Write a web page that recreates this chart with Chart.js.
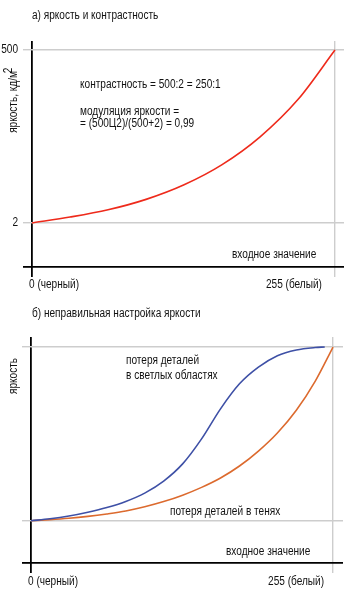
<!DOCTYPE html>
<html>
<head>
<meta charset="utf-8">
<script src="https://cdn.jsdelivr.net/npm/chart.js@4.4.1/dist/chart.umd.min.js"></script>
<style>
  html, body { margin: 0; padding: 0; background: #fff; }
  canvas { display: block; }
</style>
</head>
<body>
<canvas id="chartA" width="349" height="300"></canvas>
<canvas id="chartB" width="349" height="309"></canvas>
<script>
// а) яркость и контрастность
const inputA = [0, 32, 64, 96, 128, 160, 192, 224, 255];
const lumA = [2, 19, 40, 70, 112, 170, 250, 358, 500];
const yTicksA = [2, 500];
const yTickLabelsA = ["2", "500"];

// б) неправильная настройка яркости
const inputHigh = [0, 16, 32, 48, 64, 80, 96, 112, 128, 144, 160, 176, 192, 208, 224, 240, 248];
const lumHigh = [0, 1.1, 2.7, 4.9, 7.6, 11.1, 15.9, 22.8, 32.7, 47.1, 64.4, 78.8, 88.4, 95, 98.3, 99.7, 100];
const inputShadow = [0, 16, 32, 48, 64, 80, 96, 112, 128, 144, 160, 176, 192, 208, 224, 240, 255];
const lumShadow = [0, 0.6, 1.4, 2.5, 3.9, 5.6, 8, 11, 14.7, 19.2, 24.6, 31.5, 40.1, 50.5, 63.6, 80.4, 100];
const yTicksB = [0, 100];

const xTicks = [0, 255];
const xTickLabels = ["0 (черный)", "255 (белый)"];

const FONT = '12px "Liberation Sans", Arial, sans-serif';
const NARROW = 0.84;
const GRID = "#cdcdcd";

const points = (xs, ys) => xs.map((x, i) => ({ x: x, y: ys[i] }));

// узкий шрифт: сжимаем текст по горизонтали
function text(ctx, t, x, y, align) {
  ctx.save();
  ctx.translate(x, y);
  ctx.scale(NARROW, 1);
  ctx.textAlign = align || "left";
  ctx.fillText(t, 0, 0);
  ctx.restore();
}

// тексты, подписи осей и делений рисуем сами
const notes = {
  id: "notes",
  afterDraw(chart, args, opts) {
    const ctx = chart.ctx;
    const xs = chart.scales.x, ys = chart.scales.y;
    ctx.save();
    ctx.font = FONT;
    ctx.fillStyle = "#111";
    ctx.textBaseline = "middle";
    opts.items.forEach(it => text(ctx, it[0], it[1], it[2]));

    // x tick labels
    text(ctx, xTickLabels[0], xs.getPixelForValue(xTicks[0]) - 3, opts.xLabelY, "left");
    text(ctx, xTickLabels[1], xs.getPixelForValue(xTicks[1]) - opts.lastShift, opts.xLabelY, "right");

    // y tick labels
    (opts.yTicks || []).forEach((v, i) => {
      text(ctx, opts.yLabels[i], 18, ys.getPixelForValue(v), "right");
    });

    // y title
    ctx.translate(14, opts.titleY);
    ctx.rotate(-Math.PI / 2);
    text(ctx, opts.yTitle, 0, 0, "center");
    if (opts.sup) {
      const w = ctx.measureText(opts.yTitle).width * NARROW;
      text(ctx, opts.sup, w / 2 - 2, -5, "left");
    }
    ctx.restore();
  }
};

function gridOf(len) {
  return {
    drawTicks: true,
    tickLength: len,
    color: c => (c.index === 0 ? "#000" : GRID),
    lineWidth: c => (c.index === 0 ? 1.8 : 1.4)
  };
}

function makeChart(id, datasets, o) {
  return new Chart(document.getElementById(id), {
    type: "line",
    data: { datasets: datasets },
    options: {
      responsive: false,
      animation: false,
      layout: { padding: o.padding },
      elements: { point: { radius: 0 } },
      plugins: {
        legend: { display: false },
        tooltip: { enabled: false },
        notes: o.notes
      },
      scales: {
        x: {
          type: "linear",
          min: 0,
          max: o.xMax,
          border: { display: false },
          ticks: { display: false },
          grid: gridOf(10),
          afterBuildTicks: s => { s.ticks = xTicks.map(v => ({ value: v })); }
        },
        y: {
          type: "linear",
          min: o.yMin,
          max: o.yMax,
          border: { display: false },
          ticks: { display: false },
          grid: gridOf(9),
          afterBuildTicks: s => { s.ticks = [o.yMin].concat(o.yTicks).map(v => ({ value: v })); }
        }
      }
    },
    plugins: [notes]
  });
}

makeChart("chartA", [
  {
    data: points(inputA, lumA),
    borderColor: "#ee2a1b",
    borderWidth: 1.6,
    cubicInterpolationMode: "monotone"
  }
], {
  padding: { left: 23, right: 5, top: 41, bottom: 23 },
  xMax: 262.6,
  yMin: -124.7,
  yMax: 525.9,
  yTicks: yTicksA,
  notes: {
    items: [
      ["а) яркость и контрастность", 32, 16],
      ["контрастность = 500:2 = 250:1", 80, 85],
      ["модуляция яркости =", 80, 112],
      ["= (500Ц2)/(500+2) = 0,99", 80, 124],
      ["входное значение", 232, 255]
    ],
    xLabelY: 285,
    lastShift: 13,
    yTicks: yTicksA,
    yLabels: yTickLabelsA,
    yTitle: "яркость, кд/м",
    sup: "2",
    titleY: 102
  }
});

makeChart("chartB", [
  {
    data: points(inputHigh, lumHigh),
    borderColor: "#3e50a6",
    borderWidth: 1.6,
    cubicInterpolationMode: "monotone"
  },
  {
    data: points(inputShadow, lumShadow),
    borderColor: "#dc6a2e",
    borderWidth: 1.6,
    cubicInterpolationMode: "monotone"
  }
], {
  padding: { left: 22, right: 6, top: 37, bottom: 36 },
  xMax: 263.4,
  yMin: -24.35,
  yMax: 105.76,
  yTicks: yTicksB,
  notes: {
    items: [
      ["б) неправильная настройка яркости", 32, 14],
      ["потеря деталей", 126, 61],
      ["в светлых областях", 126, 76],
      ["потеря деталей в тенях", 170, 212],
      ["входное значение", 226, 252]
    ],
    xLabelY: 282,
    lastShift: 9,
    yTitle: "яркость",
    titleY: 76
  }
});
</script>
</body>
</html>
